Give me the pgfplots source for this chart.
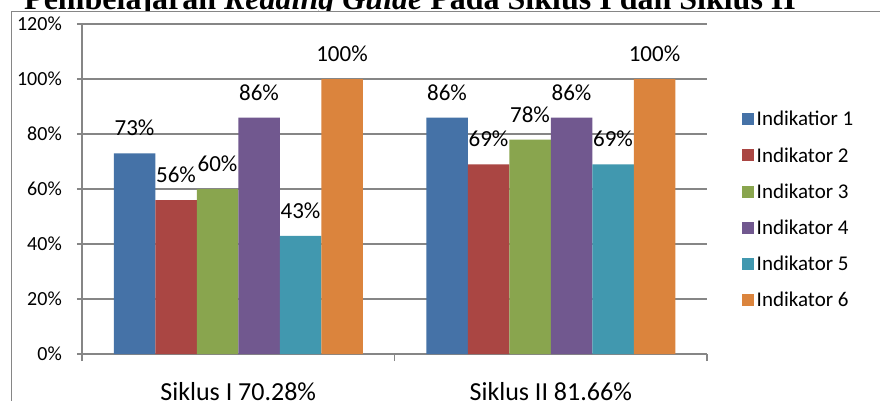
\documentclass[border=0pt]{standalone}
\usepackage{fontspec}
\usepackage{pgfplots}
\pgfplotsset{compat=1.18}
\setmainfont{Carlito}
\newfontfamily\titlefont{Liberation Serif}

\definecolor{axisgray}{HTML}{868686}
\definecolor{cA}{HTML}{4572A7}
\definecolor{cB}{HTML}{AA4643}
\definecolor{cC}{HTML}{89A54E}
\definecolor{cD}{HTML}{71588F}
\definecolor{cE}{HTML}{4198AF}
\definecolor{cF}{HTML}{DB843D}

\begin{document}
\begin{tikzpicture}[x=1pt,y=1pt]
  \useasboundingbox (0,0) rectangle (880,400);
  % title, partly cut off at the top
  \node[anchor=base west, inner sep=0pt] at (24,390.5)
    {\titlefont\fontsize{32}{36}\selectfont\bfseries Pembelajaran \textit{Reading Guide} Pada Siklus I dan Siklus II};
  \fill[white] (11.7,-5) rectangle (890,388.3);
  \draw[axisgray, line width=1pt] (11.7,-5) -- (11.7,388.3) -- (890,388.3);

  \begin{axis}[
    at={(82pt,46pt)}, anchor=south west,
    scale only axis,
    width=625pt, height=330pt,
    ybar=0pt, bar width=41.5pt,
    xmin=-0.5, xmax=1.5,
    ymin=0, ymax=120,
    xtick={0,1},
    xticklabels={Siklus I 70.28\%, Siklus II 81.66\%},
    xtick style={draw=none},
    xticklabel style={font=\fontsize{26}{30}\selectfont, anchor=base, yshift=-41.5pt},
    extra x ticks={-0.5,0.5,1.5},
    extra x tick labels={},
    extra x tick style={grid=none, xtick style={draw=axisgray, line width=1.5pt}, major tick length=7pt},
    ytick={0,20,...,120},
    yticklabels={0\%,20\%,40\%,60\%,80\%,100\%,120\%},
    yticklabel style={font=\fontsize{20}{24}\selectfont, anchor=east, inner sep=0pt, xshift=-15pt},
    tick align=outside,
    major tick length=5pt,
    ytick style={draw=axisgray, line width=1.5pt},
    ymajorgrids,
    major grid style={draw=axisgray, line width=1.5pt},
    axis x line*=bottom, axis y line*=left,
    axis line style={draw=axisgray, line width=1.5pt},
    nodes near coords={\pgfmathprintnumber[assume math mode=true,fixed,precision=0]{\pgfplotspointmeta}\%},
    every node near coord/.append style={font=\fontsize{23}{27}\selectfont, text=black, anchor=base, yshift=17.5pt},
    legend style={draw=none, fill=none, at={(1.056,0.4376)}, anchor=west,
      font=\fontsize{21}{25}\selectfont, row sep=15pt, inner sep=0pt,
      nodes={inner sep=2.5pt}},
    legend cell align=left,
    legend image code/.code={\fill[#1, draw=none] (0pt,-6pt) rectangle (12pt,6pt);},
  ]
    \addplot[fill=cA, draw=none] coordinates {(0,73) (1,86)};
    \addplot[fill=cB, draw=none] coordinates {(0,56) (1,69)};
    \addplot[fill=cC, draw=none] coordinates {(0,60) (1,78)};
    \addplot[fill=cD, draw=none] coordinates {(0,86) (1,86)};
    \addplot[fill=cE, draw=none] coordinates {(0,43) (1,69)};
    \addplot[fill=cF, draw=none] coordinates {(0,100) (1,100)};
    \legend{Indikatior 1, Indikator 2, Indikator 3, Indikator 4, Indikator 5, Indikator 6}
  \end{axis}
\end{tikzpicture}
\end{document}
